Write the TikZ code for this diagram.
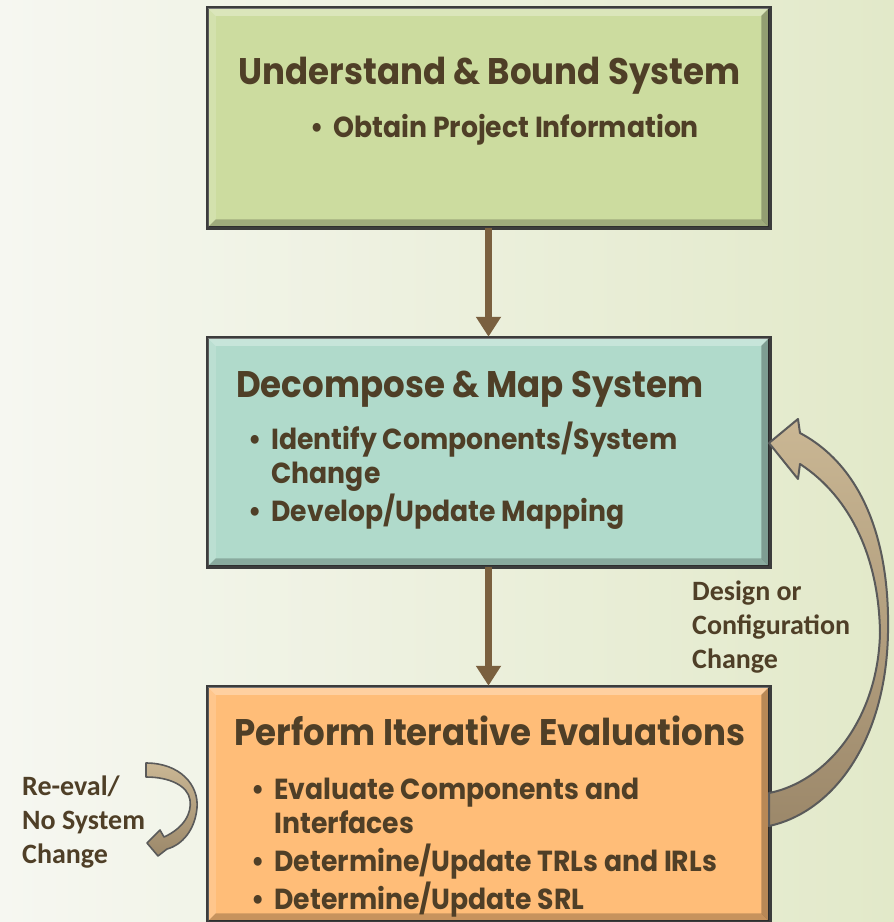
\documentclass[tikz,border=0pt]{standalone}
\usepackage{fontspec}
\setmainfont{Poppins}[FakeStretch=0.92]
\newfontfamily\notefont{Carlito}
\usetikzlibrary{arrows.meta,positioning,calc}

\definecolor{textbrown}{HTML}{4F3F27}
\definecolor{flowbrown}{HTML}{7A603F}
\definecolor{boxline}{HTML}{3C3C3C}
\definecolor{stagegreen}{HTML}{CCDC9F}
\definecolor{stageteal}{HTML}{B0DACB}
\definecolor{stageorange}{HTML}{FFBD78}
\definecolor{bgleft}{HTML}{F6F7F1}
\definecolor{bgright}{HTML}{E2E9C9}
\definecolor{ribbonlight}{HTML}{CAB794}
\definecolor{ribbondark}{HTML}{9C886A}
\definecolor{ribbonline}{HTML}{5A5A5A}

\tikzset{
  stagebox/.style={draw=boxline, line width=2.5pt, minimum width=561pt, inner sep=0pt},
  stagetitle/.style={text=textbrown, font=\bfseries\fontsize{37}{42}\selectfont, inner sep=0pt},
  stageitems/.style={text=textbrown, font=\bfseries\fontsize{29}{34.7}\selectfont, inner sep=0pt, align=left},
  notelabel/.style={text=textbrown, font=\notefont\bfseries\fontsize{28}{34}\selectfont, inner sep=0pt, align=left},
  flowarrow/.style={draw=flowbrown, line width=7pt, -{Triangle[length=20pt,width=24pt]}},
  ribbon/.style={draw=ribbonline, line width=2pt, line join=round, top color=ribbonlight, bottom color=ribbondark}
}

\newcommand{\bul}{\textbullet}

\begin{document}
\begin{tikzpicture}[x=1pt, y=-1pt]
  % background
  \shade[left color=bgleft, right color=bgright] (0,0) rectangle (894,922);
  \useasboundingbox (0,0) rectangle (894,922);

  %boxes
  \node[stagebox, fill=stagegreen, minimum height=219pt] at (488.5,117.5) (box1) {};
  \node[stagebox, fill=stageteal, minimum height=228pt] at (488.5,452) (box2) {};
  \node[stagebox, fill=stageorange, minimum height=234pt] at (488.5,804) (box3) {};

  % bevels
  \foreach \b in {box1,box2,box3} {
    \fill[white, opacity=.3] (\b.north west) -- (\b.north east) -- ($(\b.north east)+(-9,9)$) -- ($(\b.north west)+(9,9)$) -- cycle;
    \fill[white, opacity=.15] (\b.north west) -- ($(\b.north west)+(9,9)$) -- ($(\b.south west)+(9,-9)$) -- (\b.south west) -- cycle;
    \fill[black, opacity=.22] (\b.south west) -- ($(\b.south west)+(9,-9)$) -- ($(\b.south east)+(-9,-9)$) -- (\b.south east) -- cycle;
    \fill[black, opacity=.28] (\b.north east) -- ($(\b.north east)+(-9,9)$) -- ($(\b.south east)+(-9,-9)$) -- (\b.south east) -- cycle;
    \draw[boxline, line width=2.5pt] (\b.north west) rectangle (\b.south east);
  }

  %texts
  \node[stagetitle, anchor=base] at (489.5,84) (title1) {Understand \& Bound System};
  \node[stageitems, anchor=base west] at (310,137) (items1) {\bul\hspace{10pt}Obtain Project Information};

  \node[stagetitle, anchor=base west] at (236,397) (title2) {Decompose \& Map System};
  \node[stageitems, anchor=base west] at (248,449) (items2) {%
    \begin{tabular}[t]{@{}l@{\hspace{10pt}}l@{}}
      \bul & Identify Components/System\\
           & Change\\
      \bul & Develop/Update Mapping
    \end{tabular}};

  \node[stagetitle, anchor=base] at (490,745) (title3) {Perform Iterative Evaluations};
  \node[stageitems, anchor=base west] at (251,799) (items3) {%
    \begin{tabular}[t]{@{}l@{\hspace{10pt}}l@{}}
      \bul & Evaluate Components and\\
           & Interfaces\\
      \bul & Determine/Update TRLs and IRLs\\
      \bul & Determine/Update SRL
    \end{tabular}};

  \node[notelabel, anchor=base west] at (692,600) (design) {%
    \begin{tabular}[t]{@{}l@{}}Design or\\ Configuration\\ Change\end{tabular}};
  \node[notelabel, anchor=base west] at (22,795) (reeval) {%
    \begin{tabular}[t]{@{}l@{}}Re-eval/\\ No System\\ Change\end{tabular}};

  %flow
  \draw[flowarrow] (box1.south) -- (box2.north);
  \draw[flowarrow] (box2.south) -- (box3.north);

  % design change loop
  \draw[ribbon] (769,443) -- (798,419) -- (800,433)
    .. controls (862,466) and (890,540) .. (888,633)
    .. controls (886,740) and (834,812) .. (769,826)
    -- (769,793)
    .. controls (826,782) and (878,720) .. (880,633)
    .. controls (879,560) and (852,498) .. (800,464)
    -- (798,479) -- cycle;

  % re-eval loop
  \draw[ribbon, line width=1.6pt] (147,843) -- (160,830) -- (164,837)
    .. controls (184,828) and (192,813) .. (190,800)
    .. controls (188,786) and (170,777) .. (146,777)
    -- (146,763)
    .. controls (180,763) and (199,785) .. (197,808)
    .. controls (195,830) and (182,845) .. (167,849)
    -- (158,856) -- cycle;
\end{tikzpicture}
\end{document}
